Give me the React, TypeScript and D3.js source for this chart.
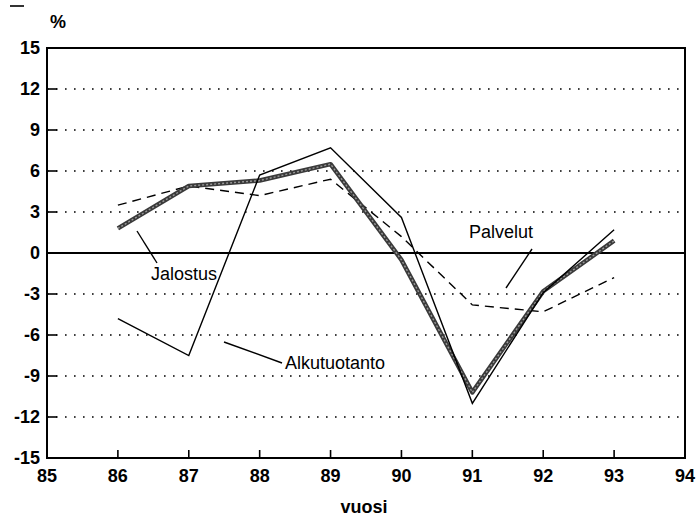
import React from 'react';
import * as d3 from 'd3';

const years = [86, 87, 88, 89, 90, 91, 92, 93];
const alkutuotanto = [-4.8, -7.5, 5.7, 7.7, 2.6, -11.0, -2.9, 1.7];
const jalostus = [1.8, 4.9, 5.3, 6.5, -0.5, -10.2, -2.8, 0.9];
const palvelut = [3.5, 4.9, 4.2, 5.4, 1.2, -3.8, -4.3, -1.8];
const xTicks = [85, 86, 87, 88, 89, 90, 91, 92, 93, 94];
const yTicks = [-15, -12, -9, -6, -3, 0, 3, 6, 9, 12, 15];

const W = 699;
const H = 524;

const App: React.FC = () => {
  const x = d3.scaleLinear().domain([85, 94]).range([47, 685]);
  const y = d3.scaleLinear().domain([-15, 15]).range([458, 48]);

  const line = d3.line<number>()
    .x((_, i) => x(years[i]))
    .y((d) => y(d));

  const font = 'Liberation Sans, Arial, sans-serif';

  return (
    <svg width={W} height={H} style={{ position: 'absolute', left: 0, top: 0, background: '#fff' }}>
      {/* grid */}
      {yTicks.filter((t) => t !== 0 && t !== 15 && t !== -15).map((t) => (
        <line key={t} x1={x(85)} x2={x(94)} y1={y(t)} y2={y(t)}
          stroke="#000" strokeWidth={1.6} strokeDasharray="1.6,7.4" />
      ))}
      <line x1={x(85)} x2={x(94)} y1={y(0)} y2={y(0)} stroke="#000" strokeWidth={2} />

      {/* frame */}
      <rect x={x(85)} y={y(15)} width={x(94) - x(85)} height={y(-15) - y(15)}
        fill="none" stroke="#000" strokeWidth={2} />

      {/* ticks */}
      {yTicks.map((t) => (
        <g key={t}>
          <line x1={x(85)} x2={x(85) + 10} y1={y(t)} y2={y(t)} stroke="#000" strokeWidth={1.6} />
          <text x={40} y={y(t)} dy="0.36em" textAnchor="end" fontFamily={font}
            fontWeight="bold" fontSize={18}>{t}</text>
        </g>
      ))}
      {xTicks.map((t) => (
        <g key={t}>
          <line x1={x(t)} x2={x(t)} y1={y(-15)} y2={y(-15) - 8} stroke="#000" strokeWidth={1.6} />
          <text x={x(t)} y={y(-15) + 24} textAnchor="middle" fontFamily={font}
            fontWeight="bold" fontSize={18}>{t}</text>
        </g>
      ))}

      {/* series */}
      <path d={line(palvelut) || ''} fill="none" stroke="#000" strokeWidth={1.4} strokeDasharray="9,6" />
      <path d={line(jalostus) || ''} fill="none" stroke="#3a3a3a" strokeWidth={4.5} strokeLinejoin="round" />
      <path d={line(jalostus) || ''} fill="none" stroke="#999" strokeWidth={1.4} strokeDasharray="2,2" />
      <path d={line(alkutuotanto) || ''} fill="none" stroke="#000" strokeWidth={1.4} />

      {/* labels */}
      <line x1={137} y1={231} x2={157} y2={263} stroke="#000" strokeWidth={1.4} />
      <text x={151} y={274} dy="0.35em" fontFamily={font} fontSize={18}>Jalostus</text>
      <line x1={224} y1={342} x2={282} y2={363} stroke="#000" strokeWidth={1.4} />
      <text x={285} y={363} dy="0.35em" fontFamily={font} fontSize={18}>Alkutuotanto</text>
      <line x1={532} y1={249} x2={506} y2={288} stroke="#000" strokeWidth={1.4} />
      <text x={469} y={232} dy="0.35em" fontFamily={font} fontSize={18}>Palvelut</text>

      <line x1={10} y1={6} x2={24} y2={6} stroke="#000" strokeWidth={1.6} />
      <text x={50} y={28} fontFamily={font} fontWeight="bold" fontSize={18}>%</text>
      <text x={364} y={513} textAnchor="middle" fontFamily={font} fontWeight="bold" fontSize={18}>vuosi</text>
    </svg>
  );
};

export default App;
